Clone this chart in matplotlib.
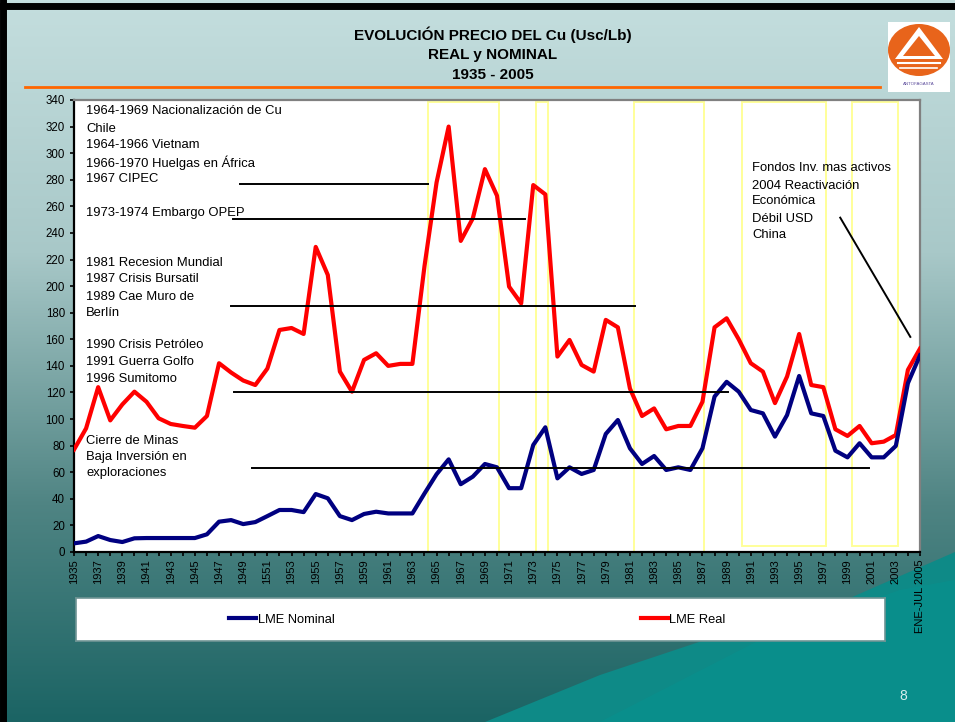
import numpy as np
import matplotlib
matplotlib.use("Agg")
import matplotlib.pyplot as plt
from matplotlib.colors import LinearSegmentedColormap
from matplotlib.patches import Rectangle, Polygon, Ellipse

plt.rcParams["font.family"] = ["Liberation Sans", "DejaVu Sans"]

# ---- data (Usc/Lb) ----
years = list(range(1935, 2006))

lme_nominal = [
    6.5, 7.8, 12, 9, 7.5, 10.3, 10.5, 10.5, 10.5, 10.5,      # 1935-1944
    10.5, 13.3, 22.8, 24, 21, 22.5, 27, 31.6, 31.6, 30,      # 1945-1954
    43.6, 40.4, 27, 24, 28.6, 30.3, 29, 29, 29, 44,          # 1955-1964
    58.5, 69.7, 51, 56.7, 66.2, 63.7, 48, 48, 80.5, 93.8,    # 1965-1974
    55.4, 63.7, 58.7, 61.7, 88.8, 99.3, 78, 66.2, 72.2, 61.7,  # 1975-1984
    63.7, 61.7, 78, 116.9, 128, 120.6, 106.8, 104.3, 86.8, 103,  # 1985-1994
    132.4, 104.3, 102.3, 76.2, 71.2, 81.8, 71.2, 71.2, 79.8, 127,  # 1995-2004
    148,                                                     # 2005
]

lme_real = [
    77, 93, 124, 99, 111, 120.6, 113, 100.6, 96.3, 94.8,
    93.5, 102.3, 142, 135, 129, 125.6, 138, 167, 168.5, 164,
    229.5, 208.4, 135.7, 120.6, 144.5, 149.5, 140, 141.5, 141.5, 215,
    278, 320, 234, 251, 288, 268, 199.6, 187, 276, 269,
    147, 159.5, 140.7, 135.7, 174.6, 169, 123, 102.3, 108, 92.3,
    94.8, 94.8, 113, 169, 175.8, 160, 142, 135.7, 112, 132,
    164, 125.6, 124, 92.3, 87.3, 94.8, 81.8, 83, 88, 137,
    153,
]

tick_labels = [str(y) if (y - 1935) % 2 == 0 else "" for y in years]
tick_labels[years.index(1951)] = "1551"
tick_labels[-1] = "ENE-JUL 2005"

# shaded periods (start year, end year, bottom value)
periods = [(1964.3, 1970.2, 0), (1973.2, 1974.2, 0), (1981.3, 1987.1, 0),
           (1990.3, 1997.2, 4.5), (1999.4, 2003.2, 4.5)]

# event lines: (x0, x1, level)
event_lines = [(1948.7, 1964.3, 277), (1948.15, 1972.3, 250.6),
               (1948.0, 1981.4, 185), (1948.2, 1989.1, 120.6),
               (1949.7, 2000.8, 63.5)]

left_notes = [
    ("1964-1969 Nacionalización de Cu", 331.5),
    ("Chile", 318),
    ("1964-1966 Vietnam", 306),
    ("1966-1970 Huelgas en África", 293),
    ("1967 CIPEC", 280.4),
    ("1973-1974 Embargo OPEP", 254.8),
    ("1981 Recesion Mundial", 217.2),
    ("1987 Crisis Bursatil", 205.2),
    ("1989 Cae Muro de", 191.6),
    ("Berlín", 180),
    ("1990 Crisis Petróleo", 155.8),
    ("1991 Guerra Golfo", 143.2),
    ("1996 Sumitomo", 130),
    ("Cierre de Minas", 83.5),
    ("Baja Inversión en", 71.3),
    ("exploraciones", 59.2),
]
right_notes = [
    ("Fondos Inv. mas activos", 289.2),
    ("2004 Reactivación", 275.6),
    ("Económica", 264.1),
    ("Débil USD", 250.6),
    ("China", 238.5),
]

W, H = 955, 722
fig = plt.figure(figsize=(W / 100, H / 100), dpi=100)

# ---- slide background ----
bg = fig.add_axes([0, 0, 1, 1], zorder=-10)
bg.set_xlim(0, W)
bg.set_ylim(H, 0)
bg.axis("off")
cmap = LinearSegmentedColormap.from_list(
    "slide", [(0.0, "#c4dede"), (0.35, "#a8c8c8"), (0.7, "#4f8483"), (1.0, "#1b6464")])
grad = np.linspace(0, 1, 256).reshape(-1, 1)
bg.imshow(grad, aspect="auto", cmap=cmap, extent=(0, W, H, 0))
bg.add_patch(Polygon([(485, 722), (600, 675), (720, 635), (850, 598), (955, 552), (955, 722)],
                     closed=True, facecolor="#0e8a87", edgecolor="none"))
bg.add_patch(Polygon([(600, 722), (760, 640), (900, 590), (955, 580), (955, 722)],
                     closed=True, facecolor="#07918e", edgecolor="none", alpha=0.7))
bg.plot([0, W], [6, 6], color="black", lw=5)
bg.plot([3, 3], [0, H], color="black", lw=5)
bg.plot([25, 880], [87, 87], color="#ff6600", lw=2)
# logo
bg.add_patch(Rectangle((888, 22), 62, 70, facecolor="white", edgecolor="none"))
bg.add_patch(Ellipse((919, 50), 62, 52, facecolor="#e8641b", edgecolor="none"))
bg.add_patch(Polygon([(919, 27), (895, 59), (943, 59)], facecolor="white"))
bg.add_patch(Polygon([(919, 36), (903, 56), (935, 56)], facecolor="#e8641b"))
bg.plot([898, 940], [63, 63], color="white", lw=1.5)
bg.plot([900, 937], [68, 68], color="white", lw=1.2)
bg.text(919, 84, "ANTOFAGASTA", fontsize=3.2, color="#5a4a9a", ha="center", va="center")
bg.text(903, 696, "8", fontsize=10, color="#d8eeee", ha="center", va="center")

# ---- titles ----
for txt, yp in [("EVOLUCIÓN PRECIO DEL Cu (Usc/Lb)", 35),
                ("REAL y NOMINAL", 55), ("1935 - 2005", 75)]:
    fig.text(493 / W, 1 - yp / H, txt, ha="center", va="center",
             fontsize=11, fontweight="bold", color="black")

# ---- main chart ----
ax = fig.add_axes([74 / W, 1 - 552 / H, (920 - 74) / W, (552 - 100) / H])
ax.set_facecolor("white")

for x0, x1, b in periods:
    ax.add_patch(Rectangle((x0, b), x1 - x0, 338.4 - b, fill=False,
                           edgecolor="#ffff99", lw=1.4, zorder=2))

ax.plot(years, lme_real, color="#ff0000", lw=3, zorder=3, label="LME Real")
ax.plot(years, lme_nominal, color="#000080", lw=3, zorder=3, label="LME Nominal")

for x0, x1, lvl in event_lines:
    ax.plot([x0, x1], [lvl, lvl], color="black", lw=1.4, zorder=4)
ax.plot([1998.4, 2004.2], [251.5, 161.8], color="black", lw=1.4, zorder=4)

for txt, yv in left_notes:
    ax.text(1936.0, yv, txt, fontsize=9.4, va="center", ha="left", zorder=5)
for txt, yv in right_notes:
    ax.text(1991.1, yv, txt, fontsize=9.4, va="center", ha="left", zorder=5)

ax.set_xlim(1935, 2005)
ax.set_ylim(0, 340)
ax.set_yticks(range(0, 341, 20))
ax.set_xticks(years)
ax.set_xticklabels(tick_labels, rotation=90, fontsize=8)
ax.tick_params(axis="y", labelsize=8.3, direction="out", length=3, width=1.2)
ax.tick_params(axis="x", direction="out", length=3, width=1.2, pad=2)
for s in ["left", "bottom"]:
    ax.spines[s].set_color("black")
    ax.spines[s].set_linewidth(1.6)
for s in ["top", "right"]:
    ax.spines[s].set_color("#808080")
    ax.spines[s].set_linewidth(1.6)

# ---- legend box ----
lax = fig.add_axes([76 / W, 1 - 641 / H, (885 - 76) / W, 43 / H])
lax.set_facecolor("white")
lax.set_xticks([])
lax.set_yticks([])
for s in lax.spines.values():
    s.set_color("#6f9595")
    s.set_linewidth(1.2)
h_real, h_nom = ax.get_lines()[0], ax.get_lines()[1]
leg1 = lax.legend(handles=[h_nom], loc="center left", bbox_to_anchor=(0.175, 0.5),
                  frameon=False, fontsize=9.3, handlelength=2.1, handletextpad=0.1)
lax.add_artist(leg1)
lax.legend(handles=[h_real], loc="center left", bbox_to_anchor=(0.684, 0.5),
           frameon=False, fontsize=9.3, handlelength=2.1, handletextpad=0.1)

fig.savefig("out.png", dpi=100)
